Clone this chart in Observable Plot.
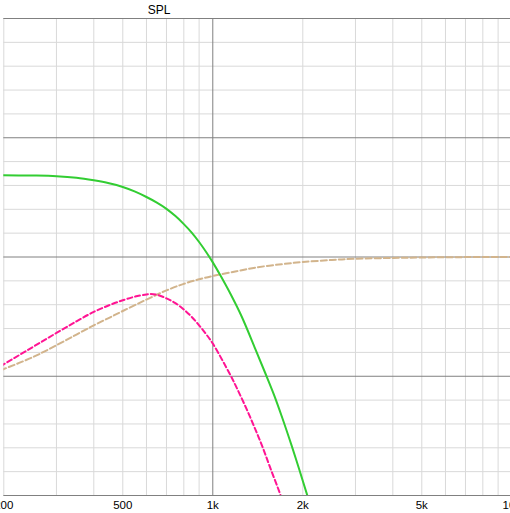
<!DOCTYPE html>
<html>
<head>
<meta charset="utf-8">
<script src="https://cdn.jsdelivr.net/npm/d3@7"></script>
<script src="https://cdn.jsdelivr.net/npm/@observablehq/plot@0.6"></script>
<style>
  html, body { margin: 0; padding: 0; background: #fff; overflow: hidden; }
  #chart svg { display: block; }
</style>
</head>
<body>
<div id="chart"></div>
<script>
// ---- data (frequency in Hz, level in dB) ----
const greenFreq = [195, 250, 300, 350, 400, 450, 500, 550, 600, 650, 700, 750, 800, 850, 900, 950, 1000, 1061, 1150, 1250, 1389, 1501, 1600, 1707, 1833, 1945, 2069, 2200];
const greenDb   = [6.85, 6.83, 6.78, 6.65, 6.43, 6.18, 5.87, 5.48, 5.03, 4.56, 4.04, 3.43, 2.76, 2.05, 1.26, 0.42, -0.45, -1.56, -3.17, -5.01, -7.74, -9.79, -11.52, -13.48, -15.78, -17.8, -19.97, -22.25];

const pinkFreq = [195, 250, 300, 350, 400, 450, 500, 550, 600, 620, 650, 700, 750, 800, 850, 900, 950, 1000, 1146, 1209, 1300, 1389, 1463, 1556, 1685, 1800];
const pinkDb   = [-9.16, -7.55, -6.37, -5.4, -4.6, -4.05, -3.63, -3.32, -3.14, -3.1, -3.16, -3.47, -3.87, -4.4, -5.02, -5.73, -6.47, -7.26, -9.92, -11.1, -12.8, -14.48, -15.86, -17.67, -19.97, -22.1];

const tanFreq = [195, 250, 300, 350, 400, 450, 500, 600, 700, 800, 900, 1000, 1200, 1389, 1700, 2000, 2500, 3000, 4000, 5000, 7000, 10000];
const tanDb   = [-9.5, -8.4, -7.4, -6.5, -5.73, -5.1, -4.53, -3.57, -2.8, -2.25, -1.87, -1.59, -1.2, -0.89, -0.6, -0.42, -0.25, -0.15, -0.08, -0.04, -0.01, 0];

const xTicks = [200, 500, 1000, 2000, 5000, 10000];
const xTickLabels = ["200", "500", "1k", "2k", "5k", "10k"];
const xMinor = [200, 300, 400, 500, 600, 700, 800, 900, 2000, 3000, 4000, 5000, 6000, 7000, 8000, 9000];
const xMajor = [1000, 10000];
const yMinor = [-18, -16, -14, -12, -8, -6, -4, -2, 2, 4, 6, 8, 12, 14, 16, 18];
const yMajor = [-20, -10, 0, 10, 20];
const title = "SPL";

const toRows = (f, v) => f.map((d, i) => ({f: d, v: v[i]}));
const green = toRows(greenFreq, greenDb);
const pink = toRows(pinkFreq, pinkDb);
const tan = toRows(tanFreq, tanDb);
const tickRows = xTicks.map((d, i) => ({f: d, label: xTickLabels[i]}));

const font = "'Liberation Sans', Arial, sans-serif";

const chart = Plot.plot({
  width: 510,
  height: 513,
  marginTop: 18,
  marginBottom: 18,
  marginLeft: 3.3,
  marginRight: -1.3,
  style: {fontFamily: font, fontSize: "11.5px", color: "#000", background: "#fff"},
  x: {type: "log", domain: [200, 10000], axis: null},
  y: {domain: [-20, 20], axis: null},
  marks: [
    Plot.ruleX(xMinor, {stroke: "#d9d9d9", strokeWidth: 1}),
    Plot.ruleY(yMinor, {stroke: "#d9d9d9", strokeWidth: 1}),
    Plot.ruleX(xMajor, {stroke: "#808080", strokeWidth: 1}),
    Plot.ruleY(yMajor, {stroke: "#808080", strokeWidth: 1}),
    Plot.text(tickRows, {x: "f", text: "label", frameAnchor: "bottom", dy: 9.5, lineAnchor: "middle", fill: "#000", fontSize: 11.5}),
    Plot.line(tan, {x: "f", y: "v", stroke: "#d2b48c", strokeWidth: 2, strokeDasharray: "6,3", curve: "catmull-rom", clip: true}),
    Plot.line(pink, {x: "f", y: "v", stroke: "#ff1493", strokeWidth: 2, strokeDasharray: "5,3", curve: "catmull-rom", clip: true}),
    Plot.line(green, {x: "f", y: "v", stroke: "#32cd32", strokeWidth: 2, curve: "catmull-rom", clip: true}),
    Plot.text([title], {frameAnchor: "top-left", dx: 144, dy: -5, textAnchor: "start", lineAnchor: "bottom", fill: "#000", fontSize: 12})
  ]
});
document.getElementById("chart").appendChild(chart);
</script>
</body>
</html>
